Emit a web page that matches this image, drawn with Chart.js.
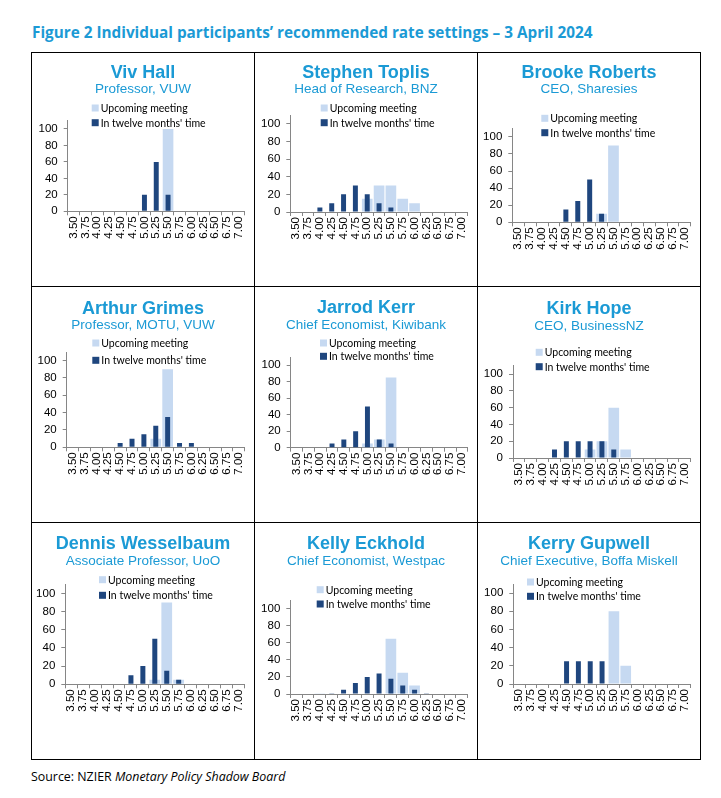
<!DOCTYPE html>
<html>
<head>
<meta charset="utf-8">
<script src="https://cdn.jsdelivr.net/npm/chart.js@4.4.1/dist/chart.umd.min.js"></script>
<style>
  body { margin: 0; background: #fff; width: 721px; height: 798px; position: relative; overflow: hidden; }
  #title { position: absolute; left: 32px; top: 22px; font: bold 15.3px "Open Sans", sans-serif; color: #1b9ad5; white-space: nowrap; }
  #source { position: absolute; left: 31px; top: 768px; font: 12.4px "Open Sans", sans-serif; color: #000; white-space: nowrap; }
  .line { position: absolute; background: #000; }
  canvas { position: absolute; }
</style>
</head>
<body>
<div id="title">Figure 2 Individual participants’ recommended rate settings – 3 April 2024</div>
<div id="source">Source: NZIER <i>Monetary Policy Shadow Board</i></div>
<script>
// categories (OCR settings)
const rates = ['3.50', '3.75', '4.00', '4.25', '4.50', '4.75', '5.00', '5.25',
  '5.50', '5.75', '6.00', '6.25', '6.50', '6.75', '7.00'];
const yTicks = [0, 20, 40, 60, 80, 100];

const names = ['Viv Hall', 'Stephen Toplis', 'Brooke Roberts',
  'Arthur Grimes', 'Jarrod Kerr', 'Kirk Hope',
  'Dennis Wesselbaum', 'Kelly Eckhold', 'Kerry Gupwell'];
const roles = ['Professor, VUW', 'Head of Research, BNZ', 'CEO, Sharesies',
  'Professor, MOTU, VUW', 'Chief Economist, Kiwibank', 'CEO, BusinessNZ',
  'Associate Professor, UoO', 'Chief Economist, Westpac', 'Chief Executive, Boffa Miskell'];

// % probability by rate, upcoming meeting
const upcoming = [
  [0, 0, 0, 0, 0, 0, 0, 0, 100, 0, 0, 0, 0, 0, 0],
  [0, 0, 0, 0, 0, 0, 15, 30, 30, 15, 10, 0, 0, 0, 0],
  [0, 0, 0, 0, 0, 0, 0, 10, 90, 0, 0, 0, 0, 0, 0],
  [0, 0, 0, 0, 0, 0, 0, 10, 90, 0, 0, 0, 0, 0, 0],
  [0, 0, 0, 0, 0, 0, 5, 10, 85, 0, 0, 0, 0, 0, 0],
  [0, 0, 0, 0, 0, 0, 10, 20, 60, 10, 0, 0, 0, 0, 0],
  [0, 0, 0, 0, 0, 0, 0, 5, 90, 5, 0, 0, 0, 0, 0],
  [0, 0, 1, 0, 0, 0, 0, 0, 65, 25, 10, 0, 0, 0, 0],
  [0, 0, 0, 0, 0, 0, 0, 0, 80, 20, 0, 0, 0, 0, 0]
];
// % probability by rate, in twelve months' time
const twelveMonths = [
  [0, 0, 0, 0, 0, 0, 20, 60, 20, 0, 0, 0, 0, 0, 0],
  [0, 0, 5, 10, 20, 30, 20, 10, 5, 0, 0, 0, 0, 0, 0],
  [0, 0, 0, 0, 15, 25, 50, 10, 0, 0, 0, 0, 0, 0, 0],
  [0, 0, 0, 0, 5, 10, 15, 25, 35, 5, 5, 0, 0, 0, 0],
  [0, 0, 0, 5, 10, 20, 50, 10, 5, 0, 0, 0, 0, 0, 0],
  [0, 0, 0, 10, 20, 20, 20, 20, 10, 0, 0, 0, 0, 0, 0],
  [0, 0, 0, 0, 0, 10, 20, 50, 15, 5, 0, 0, 0, 0, 0],
  [0, 0, 0, 1, 5, 13, 20, 24, 18, 10, 5, 1, 0, 0, 0],
  [0, 0, 0, 0, 25, 25, 25, 25, 0, 0, 0, 0, 0, 0, 0]
];

// page layout
const colX = [31, 254, 477, 700];
const rowY = [52, 286, 522, 759];
// per panel, page px: axis left, axis right, axis top, zero line, name y, role y, legend x, legend y, legend gap
const geom = [
  [67.7, 245, 120.7, 211.3, 73, 89, 91.7, 108, 14.7],
  [290.3, 468.3, 115, 212, 73, 89, 320.7, 108, 14.7],
  [512.3, 691.3, 128.3, 222.3, 73, 89, 541.3, 118.3, 14.4],
  [66.7, 245, 352, 447.3, 308.7, 325.7, 92.3, 343, 17.3],
  [290.7, 468.3, 357, 447.7, 308, 325.7, 320, 343, 13.3],
  [513, 691.3, 365.7, 458, 308.7, 326.3, 535.7, 352.3, 14.4],
  [65.3, 244.3, 584.3, 684.3, 543.7, 561.3, 99, 579.7, 15.6],
  [290.3, 468.3, 600.3, 694, 543.7, 561.3, 316.7, 589.7, 14.3],
  [513.3, 691.3, 584, 684, 543.7, 561.3, 527, 582, 14.3]
];

const DARK = '#1f467e';
const LIGHT = '#c6d9f1';
const AXIS = '#868686';
const BLUE = '#1b9ad5';
const Y_W = 30, X_H = 32;

// grid lines
function addLine(l, t, w, h) {
  const d = document.createElement('div');
  d.className = 'line';
  d.style.cssText = 'left:' + l + 'px;top:' + t + 'px;width:' + w + 'px;height:' + h + 'px';
  document.body.appendChild(d);
}
colX.forEach(x => addLine(x, rowY[0], 1, rowY[3] - rowY[0] + 1));
rowY.forEach(y => addLine(colX[0], y, colX[3] - colX[0] + 1, 1));

// name, role and legend for each panel
const panelText = {
  id: 'panelText',
  afterDraw(chart, args, opts) {
    const ctx = chart.ctx;
    ctx.save();
    ctx.textAlign = 'center';
    ctx.textBaseline = 'middle';
    ctx.fillStyle = BLUE;
    ctx.font = 'bold 18px "Liberation Sans"';
    ctx.fillText(opts.name, chart.width / 2, opts.nameY);
    ctx.font = '13.5px "Liberation Sans"';
    ctx.fillText(opts.role, chart.width / 2, opts.roleY);
    ctx.textAlign = 'left';
    ctx.font = '10.5px Lato';
    [1, 0].forEach((di, i) => {
      const ds = chart.data.datasets[di];
      const y = opts.legY + i * opts.legGap;
      ctx.fillStyle = ds.backgroundColor;
      ctx.fillRect(opts.legX, y - 3.5, 7, 7);
      ctx.fillStyle = '#000';
      ctx.fillText(ds.label, opts.legX + 9, y + 0.5);
    });
    ctx.restore();
  }
};

const tickFont = { family: '"Liberation Sans"', size: 11.5 };

names.forEach((name, i) => {
  const c = i % 3, r = Math.floor(i / 3);
  const left = colX[c] + 1, top = rowY[r] + 1;
  const w = colX[c + 1] - colX[c] - 1, h = rowY[r + 1] - rowY[r] - 1;
  const g = geom[i];

  const canvas = document.createElement('canvas');
  canvas.width = w;
  canvas.height = h;
  canvas.style.left = left + 'px';
  canvas.style.top = top + 'px';
  document.body.appendChild(canvas);

  new Chart(canvas, {
    type: 'bar',
    data: {
      labels: rates,
      datasets: [
        { label: "In twelve months' time", data: twelveMonths[i], backgroundColor: DARK,
          barPercentage: 0.42, categoryPercentage: 1, grouped: false },
        { label: 'Upcoming meeting', data: upcoming[i], backgroundColor: LIGHT,
          barPercentage: 0.9, categoryPercentage: 1, grouped: false }
      ]
    },
    options: {
      responsive: false,
      animation: false,
      events: [],
      layout: {
        padding: {
          left: g[0] - left - Y_W,
          right: left + w - g[1],
          top: g[2] - top,
          bottom: top + h - g[3] - X_H
        }
      },
      plugins: {
        legend: { display: false },
        tooltip: { enabled: false },
        panelText: {
          name: name, role: roles[i],
          nameY: g[4] - top, roleY: g[5] - top,
          legX: g[6] - left, legY: g[7] - top, legGap: g[8]
        }
      },
      scales: {
        x: {
          grid: { offset: true, drawOnChartArea: false, tickLength: 4, color: AXIS },
          border: { color: AXIS },
          ticks: { autoSkip: false, minRotation: 90, maxRotation: 90, padding: 1, font: tickFont, color: '#000' },
          afterFit: s => { s.height = X_H; }
        },
        y: {
          min: 0,
          max: 110,
          afterBuildTicks: s => { s.ticks = yTicks.map(v => ({ value: v })); },
          grid: { drawOnChartArea: false, tickLength: 4, color: AXIS },
          border: { color: AXIS },
          ticks: { padding: 6, font: tickFont, color: '#000' },
          afterFit: s => { s.width = Y_W; }
        }
      }
    },
    plugins: [panelText]
  });
});
</script>
</body>
</html>
